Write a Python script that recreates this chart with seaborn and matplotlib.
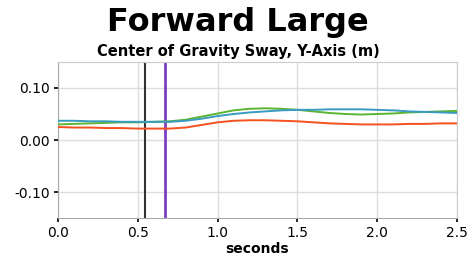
import numpy as np
import pandas as pd
import matplotlib
matplotlib.use("Agg")
import matplotlib.pyplot as plt
import seaborn as sns

# ---------- Data ----------
seconds = [0.0, 0.1, 0.2, 0.3, 0.4, 0.5, 0.6, 0.7, 0.8, 0.9, 1.0, 1.1, 1.2,
           1.3, 1.4, 1.5, 1.6, 1.7, 1.8, 1.9, 2.0, 2.1, 2.2, 2.3, 2.4, 2.5]
sway_orange = [0.025, 0.024, 0.024, 0.023, 0.023, 0.022, 0.022, 0.022, 0.024,
               0.029, 0.034, 0.037, 0.038, 0.038, 0.037, 0.036, 0.034, 0.032,
               0.031, 0.030, 0.030, 0.030, 0.031, 0.031, 0.032, 0.032]
sway_green = [0.030, 0.031, 0.032, 0.033, 0.034, 0.034, 0.035, 0.036, 0.039,
              0.045, 0.051, 0.057, 0.060, 0.061, 0.060, 0.058, 0.055, 0.052,
              0.050, 0.049, 0.050, 0.051, 0.053, 0.054, 0.055, 0.056]
sway_blue = [0.037, 0.037, 0.036, 0.036, 0.035, 0.035, 0.035, 0.035, 0.037,
             0.041, 0.046, 0.050, 0.053, 0.055, 0.057, 0.058, 0.058, 0.059,
             0.059, 0.059, 0.058, 0.057, 0.055, 0.054, 0.053, 0.052]
event_black = 0.545
event_purple = 0.67

xticks = [0.0, 0.5, 1.0, 1.5, 2.0, 2.5]
yticks = [-0.10, 0.00, 0.10]

# ---------- Build long table ----------
df = pd.DataFrame({
    "seconds": seconds * 3,
    "sway": sway_orange + sway_green + sway_blue,
    "series": ["orange"] * len(seconds) + ["green"] * len(seconds) + ["blue"] * len(seconds),
})
palette = {"orange": "#f4511e", "green": "#5cb531", "blue": "#3a9bc1"}

# ---------- Plot ----------
sns.set_style("white", {"xtick.bottom": True, "ytick.left": True,
                        "text.color": "black", "axes.labelcolor": "black",
                        "xtick.color": "black", "ytick.color": "black"})
plt.rcParams["font.family"] = ["DejaVu Sans"]

fig = plt.figure(figsize=(4.76, 2.56), dpi=100)
ax = fig.add_axes([0.122, 0.148, 0.838, 0.61])

ax.axvline(event_black, color="#333333", lw=1.5, zorder=1)
ax.axvline(event_purple, color="#7e3fbf", lw=2.0, zorder=1)

sns.lineplot(data=df, x="seconds", y="sway", hue="series", palette=palette,
             legend=False, lw=1.4, ax=ax, zorder=3)

ax.set_xlim(0, 2.5)
ax.set_ylim(-0.15, 0.15)
ax.set_xticks(xticks)
ax.set_yticks(yticks)
ax.set_xticklabels([f"{t:.1f}" for t in xticks], fontsize=10)
ax.set_yticklabels([f"{t:.2f}" for t in yticks], fontsize=10)
ax.grid(True, color="#dddddd", lw=1.0, zorder=0)
ax.set_axisbelow(True)
for side in ["top", "right"]:
    ax.spines[side].set_color("#cccccc")
for side in ["left", "bottom"]:
    ax.spines[side].set_color("#aaaaaa")
ax.tick_params(axis="both", length=3, width=1.2, color="black", pad=3,
               bottom=True, left=True)

ax.set_xlabel("seconds", fontsize=10, fontweight="bold", labelpad=1)
ax.set_ylabel("")

fig.text(0.5, 0.912, "Forward Large", ha="center", va="center",
         fontsize=23, fontweight="bold", color="black")
fig.text(0.5, 0.797, "Center of Gravity Sway, Y-Axis (m)", ha="center",
         va="center", fontsize=10.5, fontweight="bold", color="black")

fig.savefig("out.png", dpi=100)
